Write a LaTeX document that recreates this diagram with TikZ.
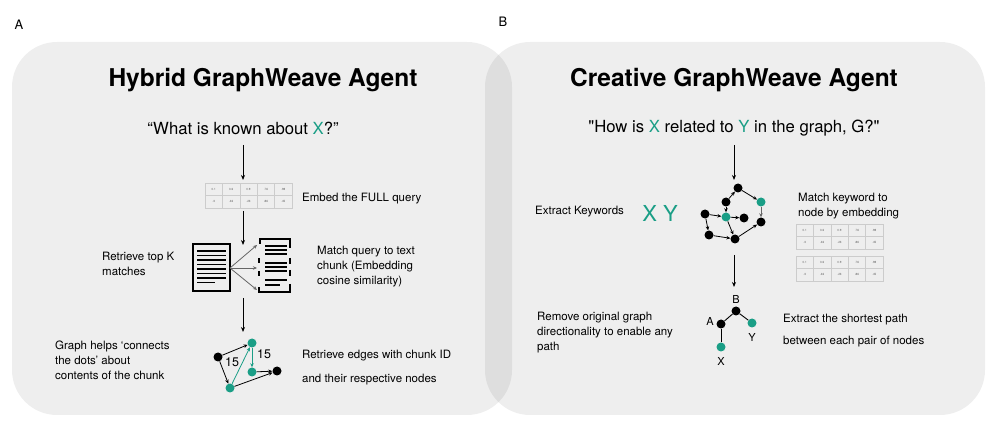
\documentclass[tikz,border=0pt]{standalone}
\usepackage{fontspec}
\setmainfont{TeX Gyre Heros}
\usetikzlibrary{arrows.meta}
\definecolor{teal1}{HTML}{1A9E86}
\tikzset{
 panel/.style={fill=black,fill opacity=0.065,rounded corners=45pt},
 arr/.style={-{Stealth[length=5pt,width=4pt]},line width=0.9pt},
 garr/.style={-{Stealth[length=4pt,width=3.5pt]},line width=0.8pt},
 bn/.style={circle,fill=black,inner sep=0pt,minimum size=9pt},
 tn/.style={circle,fill=teal1,inner sep=0pt,minimum size=9pt},
 txt/.style={font=\fontsize{11.5}{15}\selectfont,align=left,anchor=west,inner sep=0pt},
 ttl/.style={font=\fontsize{24.5}{28}\selectfont\bfseries},
 qt/.style={font=\fontsize{16.7}{20}\selectfont},
 cell/.style={draw=black!20,line width=0.4pt,minimum width=17.4pt,minimum height=12.5pt,inner sep=0pt,font=\fontsize{3}{3}\selectfont,text=black!60},
 doc/.style={draw,line width=2pt}
}
\newcommand{\embtable}[3]{%
 \foreach \v [count=\i] in {0.1,0.6,0.9,.76,.98}{\node[cell] (#3r1c\i) at (#1+\i*17.4-8.7,#2+6.25) {\v};}
 \foreach \v [count=\i] in {.3,.46,.23,.86,.45}{\node[cell] (#3r2c\i) at (#1+\i*17.4-8.7,#2+18.75) {\v};}
}
\begin{document}
\begin{tikzpicture}[x=1pt,y=-1pt]
\useasboundingbox (0,0) rectangle (996,435);
\fill[white] (0,0) rectangle (996,435);
\draw[panel,draw=none] (12,42) rectangle (512,415);
\draw[panel,draw=none] (485,42) rectangle (985,415);
\node[font=\fontsize{13}{14}\selectfont] (la) at (19,25) {A};
\node[font=\fontsize{13}{14}\selectfont] (lb) at (503,22) {B};
% ---------- left
\node[ttl] (t1) at (263,80) {Hybrid GraphWeave Agent};
\node[qt] (q1) at (243,128) {“What is known about \textcolor{teal1}{X}?”};
\coordinate (q1b) at (243,145);
\embtable{205}{183}{L}
\draw[arr] (q1b) -- (243,180);
\node[txt] (e1) at (302,199) {Embed the FULL query};
\draw[arr] (243,211) -- (243,245);
% documents
\draw[doc] (193,244) rectangle (230,291);
\foreach \yy in {251,255.5,260,264.5,269,273.5,278}{\draw[line width=1.2pt] (197,\yy) -- (226,\yy);}
\draw[line width=1.2pt] (197,282.5) -- (215,282.5);
\node[inner sep=0pt] (docL) at (230,268) {};
\draw[line width=2pt] (260,244) -- (260,239) -- (290,239) -- (290,248);
\draw[line width=2pt] (290,258) -- (290,264); \draw[line width=2pt] (290,270) -- (290,276);
\draw[line width=2pt] (290,284) -- (290,292) -- (259,292) -- (259,287);
\draw[line width=2pt] (259,258) -- (259,263); \draw[line width=2pt] (259,271) -- (259,276);
\foreach \yy in {246,250,254}{\draw[line width=1.2pt] (265,\yy) -- (287,\yy);}
\foreach \yy in {263,267,271}{\draw[line width=1.2pt] (265,\yy) -- (287,\yy);}
\draw[line width=1.2pt] (265,280) -- (287,280); \draw[line width=1.2pt] (265,285) -- (280,285);
\coordinate (d1) at (257,245); \coordinate (d2) at (257,268); \coordinate (d3) at (257,290);
\foreach \d in {d1,d2,d3}{\draw[garr,black!60] (docL.center) -- (\d);}
\node[txt] (rk) at (102,264) {Retrieve top K\\matches};
\node[txt] (mq) at (317,267) {Match query to text\\chunk (Embedding\\cosine similarity)};
\draw[arr] (243,298) -- (243,332);
% graph
\node[bn] (g1) at (218,357) {};
\node[tn] (g2) at (252,343) {};
\node[tn] (g3) at (252,372) {};
\node[bn] (g4) at (277,371) {};
\node[tn] (g5) at (230,388) {};
\draw[garr] (g1) -- (g2);
\draw[garr] (g1) -- (g5);
\draw[garr,teal1] (g5) -- (g2);
\draw[garr,teal1] (g2) -- (g3);
\draw[garr] (g3) -- (g4);
\draw[garr] (g5) -- (g4);
\node[font=\fontsize{12.5}{13}\selectfont] (l15a) at (232,362) {15};
\node[font=\fontsize{12.5}{13}\selectfont] (l15b) at (264,354) {15};
\node[txt] (gh) at (55,360) {Graph helps ‘connects\\the dots’ about\\contents of the chunk};
\node[txt] (re) at (302,356) {Retrieve edges with chunk ID};
\node[txt] (re2) at (302,380) {and their respective nodes};
% ---------- right
\node[ttl] (t2) at (734,80) {Creative GraphWeave Agent};
\node[qt] (q2) at (734,128) {\textquotedbl How is \textcolor{teal1}{X} related to \textcolor{teal1}{Y} in the graph, G?\textquotedbl};
\draw[arr] (734,145) -- (734,180);
\node[txt] (ek) at (535,212) {Extract Keywords};
\node[font=\fontsize{22}{24}\selectfont,text=teal1] (xy) at (660,213) {X Y};
\node[bn] (n1) at (738,188) {};
\node[bn] (n2) at (726,202) {};
\node[bn] (n3) at (705,214) {};
\node[tn] (n4) at (726,217) {};
\node[bn] (n5) at (744,218) {};
\node[bn] (n6) at (709,235) {};
\node[bn] (n7) at (735,239) {};
\node[tn] (n8) at (761,202) {};
\node[bn] (n9) at (761,222) {};
\draw[garr] (n2) -- (n1);
\draw[garr] (n1) -- (n8);
\draw[garr,black!60] (n8) -- (n9);
\draw[garr] (n3) -- (n4);
\draw[garr] (n4) -- (n5);
\draw[garr] (n3) -- (n6);
\draw[garr] (n4) -- (n7);
\draw[garr] (n2) -- (n4);
\draw[garr] (n6) -- (n7);
\draw[garr] (n7) -- (n9);
\node[txt] (mk) at (798,206) {Match keyword to\\node by embedding};
\embtable{796}{224}{R1}
\embtable{796}{256}{R2}
\draw[arr] (734,255) -- (734,287);
\node[bn] (tb) at (736,311) {};
\node[bn] (ta) at (721,324) {};
\node[tn] (ty) at (752,323) {};
\node[tn] (tx) at (721,347) {};
\draw[line width=0.9pt] (ta) -- (tb) -- (ty);
\draw[line width=0.9pt] (ta) -- (tx);
\node[font=\fontsize{11}{12}\selectfont] (lB) at (736,299) {B};
\node[font=\fontsize{11}{12}\selectfont] (lA) at (710,321) {A};
\node[font=\fontsize{11}{12}\selectfont] (lY) at (752,337) {Y};
\node[font=\fontsize{11}{12}\selectfont] (lX) at (721,361) {X};
\node[txt] (rm) at (537,333) {Remove original graph\\directionality to enable any\\path};
\node[txt] (es) at (783,320) {Extract the shortest path};
\node[txt] (es2) at (783,342) {between each pair of nodes};
\end{tikzpicture}
\end{document}
